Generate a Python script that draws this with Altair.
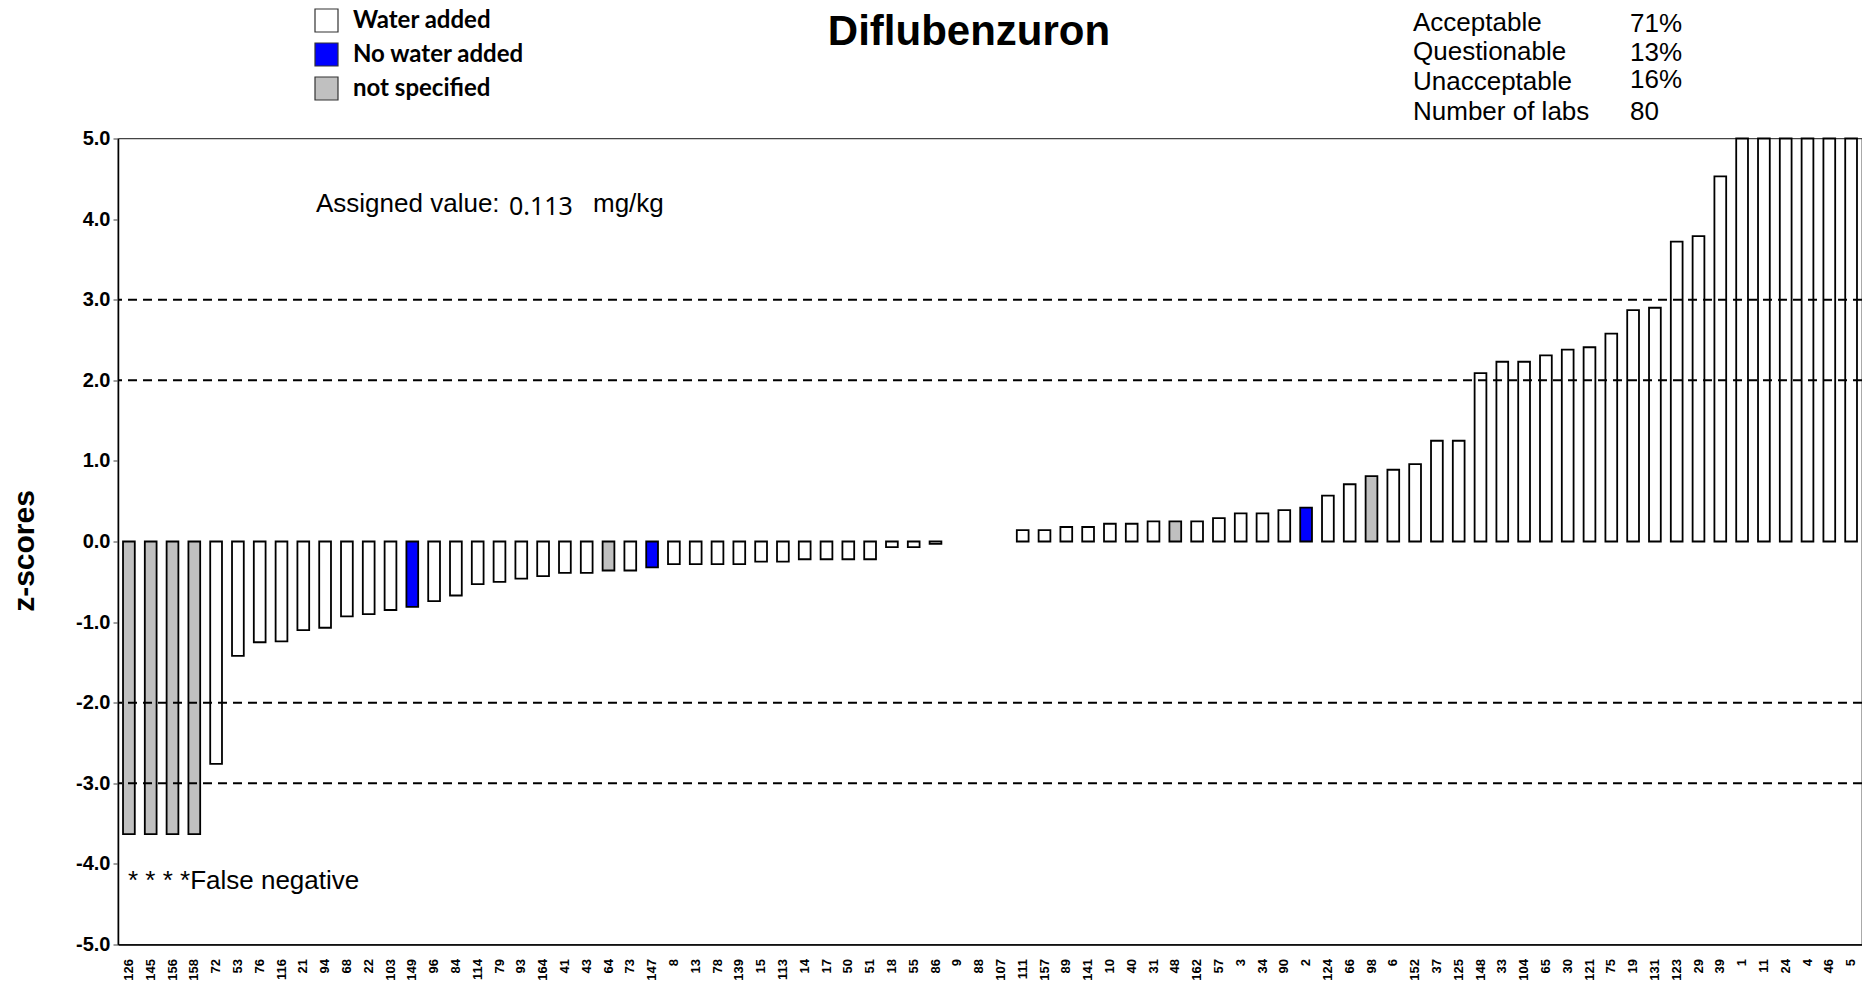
import altair as alt
import pandas as pd

# ---------------- data ----------------
labs = ["126", "145", "156", "158", "72", "53", "76", "116", "21", "94",
        "68", "22", "103", "149", "96", "84", "114", "79", "93", "164",
        "41", "43", "64", "73", "147", "8", "13", "78", "139", "15",
        "113", "14", "17", "50", "51", "18", "55", "86", "9", "88",
        "107", "111", "157", "89", "141", "10", "40", "31", "48", "162",
        "57", "3", "34", "90", "2", "124", "66", "98", "6", "152",
        "37", "125", "148", "33", "104", "65", "30", "121", "75", "19",
        "131", "123", "29", "39", "1", "11", "24", "4", "46", "5"]

z_scores = [-3.63, -3.63, -3.63, -3.63, -2.76, -1.42, -1.25, -1.24, -1.10, -1.07,
            -0.93, -0.90, -0.85, -0.81, -0.74, -0.67, -0.53, -0.50, -0.46, -0.43,
            -0.39, -0.39, -0.36, -0.36, -0.32, -0.28, -0.28, -0.28, -0.28, -0.25,
            -0.25, -0.22, -0.22, -0.22, -0.22, -0.07, -0.07, -0.03, None, None,
            None, 0.14, 0.14, 0.18, 0.18, 0.22, 0.22, 0.25, 0.25, 0.25,
            0.29, 0.35, 0.35, 0.39, 0.42, 0.57, 0.71, 0.81, 0.89, 0.96,
            1.25, 1.25, 2.09, 2.23, 2.23, 2.31, 2.38, 2.41, 2.58, 2.87,
            2.90, 3.72, 3.79, 4.53, 5.0, 5.0, 5.0, 5.0, 5.0, 5.0]

# W = Water added, N = No water added, S = not specified
sample_code = ["S", "S", "S", "S", "W", "W", "W", "W", "W", "W",
               "W", "W", "W", "N", "W", "W", "W", "W", "W", "W",
               "W", "W", "S", "W", "N", "W", "W", "W", "W", "W",
               "W", "W", "W", "W", "W", "W", "W", "W", "W", "W",
               "W", "W", "W", "W", "W", "W", "W", "W", "S", "W",
               "W", "W", "W", "W", "N", "W", "W", "S", "W", "W",
               "W", "W", "W", "W", "W", "W", "W", "W", "W", "W",
               "W", "W", "W", "W", "W", "W", "W", "W", "W", "W"]

type_names = {"W": "Water added", "N": "No water added", "S": "not specified"}
type_order = ["Water added", "No water added", "not specified"]
type_colors = ["#FFFFFF", "#0000FF", "#C0C0C0"]

limit_lines = [3, 2, -2, -3]

chart_title = "Diflubenzuron"
stat_names = ["Acceptable", "Questionable", "Unacceptable", "Number of labs"]
stat_values = ["71%", "13%", "16%", "80"]
assigned_label = "Assigned value: "
assigned_value = "0.113"
assigned_unit = "mg/kg"
footnote = "* * * *False negative"

df = pd.DataFrame({
    "lab": labs,
    "z": z_scores,
    "type": [type_names[c] for c in sample_code],
})

W, H = 1744, 806
ARIAL = "Liberation Sans"

x_enc = alt.X(
    "lab:N",
    sort=labs,
    scale=alt.Scale(domain=labs, paddingInner=0.46, paddingOuter=0.23),
    axis=alt.Axis(
        title=None, labelAngle=-90, labelAlign="right", labelBaseline="middle",
        labelFont=ARIAL, labelFontSize=13, labelFontWeight="bold", labelColor="black",
        labelPadding=14, ticks=False, domainColor="black", domainWidth=1.5,
        labelOverlap=False,
    ),
)

y_enc = alt.Y(
    "z:Q",
    scale=alt.Scale(domain=[-5, 5], nice=False, zero=True),
    axis=alt.Axis(
        title="z-scores", values=[-5, -4, -3, -2, -1, 0, 1, 2, 3, 4, 5],
        labelExpr="(datum.value < 0 ? '-' : '') + format(abs(datum.value), '.1f')",
        labelFont=ARIAL, labelFontSize=20, labelFontWeight="bold", labelColor="black",
        labelPadding=3, tickSize=5, tickColor="#808080", tickWidth=1.5,
        domainColor="black", domainWidth=1.5, grid=False,
        titleFont=ARIAL, titleFontSize=30, titleFontWeight="bold", titleColor="black",
        titleAngle=-90, titleAlign="center", titleBaseline="middle",
        titleX=-94, titleY=412,
    ),
)

bars = alt.Chart(df).mark_bar(stroke="black", strokeWidth=1.8).encode(
    x=x_enc,
    y=y_enc,
    fill=alt.Fill(
        "type:N",
        scale=alt.Scale(domain=type_order, range=type_colors),
        legend=alt.Legend(
            title=None, orient="none", legendX=196, legendY=-130.5,
            symbolType="square", symbolSize=529, symbolStrokeColor="#333333",
            symbolStrokeWidth=1.2, labelFont="Lato", labelFontWeight="bold",
            labelFontSize=24, labelColor="black", rowPadding=5, labelOffset=14,
            labelLimit=400, padding=0,
        ),
    ),
)

rules = alt.Chart(pd.DataFrame({"y": limit_lines})).mark_rule(
    color="black", strokeWidth=2, strokeDash=[9, 6]
).encode(y="y:Q")


def text_layer(txt, x, y, size, weight="normal", align="left", font=ARIAL):
    return alt.Chart(pd.DataFrame({"t": [txt]})).mark_text(
        align=align, baseline="alphabetic", fontSize=size, fontWeight=weight,
        font=font, color="black",
    ).encode(x=alt.value(x), y=alt.value(y), text="t:N")


layers = [bars, rules]
layers.append(text_layer(chart_title, 851, -93.5, 42, weight="bold", align="center"))
label_y = [-107.5, -78.5, -48.5, -18.5]
value_y = [-106.5, -77.5, -50.5, -18.5]
for name, val, ly, vy in zip(stat_names, stat_values, label_y, value_y):
    layers.append(text_layer(name, 1295, ly, 26))
    layers.append(text_layer(val, 1512, vy, 26))
layers.append(text_layer(assigned_label, 198, 73.5, 26))
layers.append(text_layer(assigned_value, 391, 76, 25, font="Noto Sans"))
layers.append(text_layer(assigned_unit, 475, 73.5, 26))
layers.append(text_layer(footnote, 10, 750, 26))

chart = alt.layer(*layers).properties(
    width=W, height=H,
    autosize=alt.AutoSizeParams(type="none"),
    padding={"left": 110, "top": 130.5, "right": 0, "bottom": 35.5},
    background="white",
).configure_view(stroke="#444444", strokeWidth=1.3)

chart.save("out.html", embed_options={"renderer": "svg", "actions": False})
